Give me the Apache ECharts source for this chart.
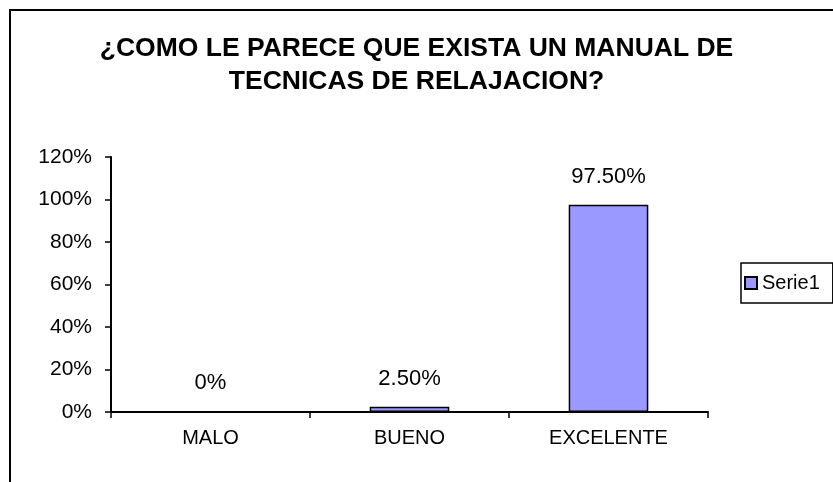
<!DOCTYPE html>
<html>
<head>
<meta charset="utf-8">
<script src="https://cdn.jsdelivr.net/npm/echarts@6/dist/echarts.min.js"></script>
<style>
  html, body { margin: 0; padding: 0; background: #fff; }
  #chart { width: 833px; height: 482px; }
</style>
</head>
<body>
<div id="chart"></div>
<script>
// datos de la encuesta
const categories = ['MALO', 'BUENO', 'EXCELENTE']
const serie1 = [0, 0.025, 0.975]
const seriesName = 'Serie1'
const chartTitle = '¿COMO LE PARECE QUE EXISTA UN MANUAL DE\nTECNICAS DE RELAJACION?'

const chartInstance = echarts.init(document.getElementById('chart'))

const fontFam = 'Liberation Sans, Arial, sans-serif'
const fmtPct = (v) => (v === 0 ? '0%' : (v * 100).toFixed(2) + '%')

const chartSet = {
  animation: false,
  textStyle: { fontFamily: fontFam, color: '#000' },
  title: {
    text: chartTitle,
    left: 'center',
    top: 27,
    textStyle: {
      fontFamily: fontFam,
      fontSize: 26.5,
      fontWeight: 'bold',
      color: '#000',
      lineHeight: 33,
    },
  },
  // marco del grafico (solo se ven borde izq. y sup.)
  graphic: [
    {
      type: 'rect',
      shape: { x: 10, y: 10, width: 900, height: 600 },
      style: { fill: 'none', stroke: '#000', lineWidth: 2 },
      silent: true,
    },
  ],
  legend: {
    show: true,
    left: 741,
    top: 263,
    orient: 'vertical',
    padding: [10, 13, 10, 3],
    borderColor: '#000',
    borderWidth: 1.5,
    itemWidth: 12,
    itemHeight: 12,
    icon: 'rect',
    data: [seriesName],
    textStyle: { fontSize: 20, color: '#000', fontFamily: fontFam },
  },
  grid: {
    left: 111,
    right: 125,
    top: 157,
    bottom: 70,
    containLabel: false,
  },
  xAxis: {
    type: 'category',
    data: categories,
    axisLine: { lineStyle: { color: '#000', width: 2 } },
    axisTick: { show: true, length: 6, lineStyle: { color: '#000', width: 1.5 } },
    axisLabel: { fontSize: 20, color: '#000', margin: 16 },
  },
  yAxis: {
    type: 'value',
    min: 0,
    max: 1.2,
    interval: 0.2,
    splitLine: { show: false },
    axisLine: { show: true, lineStyle: { color: '#000', width: 2 } },
    axisTick: { show: true, length: 6, lineStyle: { color: '#000', width: 1.5 } },
    axisLabel: {
      fontSize: 21,
      color: '#000',
      margin: 19,
      formatter: (v) => Math.round(v * 100) + '%',
    },
  },
  series: [
    {
      name: seriesName,
      type: 'bar',
      data: serie1,
      barWidth: '40%',
      itemStyle: { color: '#9999FF', borderColor: '#000', borderWidth: 1.5 },
      label: {
        show: true,
        position: 'top',
        distance: 17,
        fontSize: 22,
        color: '#000',
        formatter: (p) => fmtPct(p.value),
      },
    },
  ],
}

chartInstance.setOption(chartSet)
</script>
</body>
</html>
